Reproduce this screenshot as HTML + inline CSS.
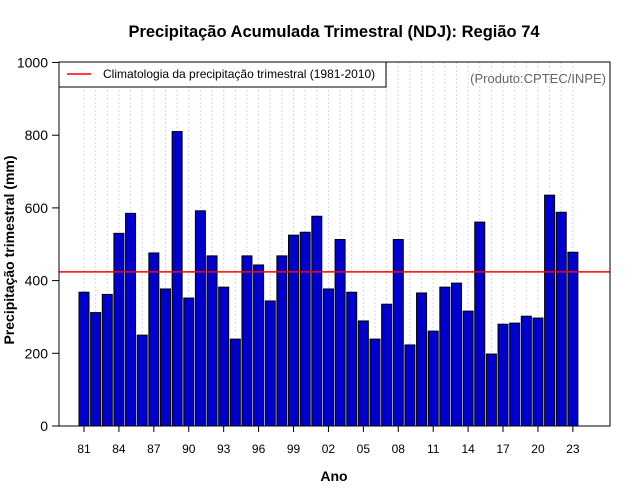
<!DOCTYPE html>
<html><head><meta charset="utf-8"><style>
body{margin:0;background:#fff;}
svg{display:block;font-family:"Liberation Sans",Arial,sans-serif;}
</style></head><body>
<svg id="chart" width="640" height="500">
<text x="334" y="37" text-anchor="middle" font-size="16.5" font-weight="bold">Precipitação Acumulada Trimestral (NDJ): Região 74</text>
<g id="grid"></g>
<g id="bars"></g>
<g id="axes"></g>
<rect x="59" y="62" width="551" height="364" fill="none" stroke="#000" stroke-width="1"/>
<g>
<rect x="59" y="62" width="327" height="25" fill="#fff" stroke="#000"/>
<line x1="67" y1="74" x2="91" y2="74" stroke="#f00" stroke-width="1.5"/>
<text x="103" y="78" font-size="12">Climatologia da precipitação trimestral (1981-2010)</text>
</g>
<text x="606" y="83" text-anchor="end" font-size="13" fill="#666">(Produto:CPTEC/INPE)</text>
<text x="334" y="481" text-anchor="middle" font-size="14" font-weight="bold">Ano</text>
<text transform="translate(14,250) rotate(-90)" text-anchor="middle" font-size="14" font-weight="bold">Precipitação trimestral (mm)</text>
</svg>
<script>
const years=[1981,1982,1983,1984,1985,1986,1987,1988,1989,1990,1991,1992,1993,1994,1995,1996,1997,1998,1999,2000,2001,2002,2003,2004,2005,2006,2007,2008,2009,2010,2011,2012,2013,2014,2015,2016,2017,2018,2019,2020,2021,2022,2023];
const values=[368,312,362,530,585,250,476,377,810,352,592,468,382,239,468,443,344,468,525,533,577,377,513,368,289,239,335,513,223,366,261,382,393,316,561,198,280,283,302,297,635,588,478];
const climatology=[424];
const yTicks=[0,200,400,600,800,1000];
const NS="http://www.w3.org/2000/svg";
const x0=59,x1=610,yB=426,yT=62.5;
const y=v=>yB-(v/1000)*(yB-yT);
const step=11.64;
const x=i=>84+i*step;
function mk(t,a,p){const e=document.createElementNS(NS,t);for(const k in a)e.setAttribute(k,a[k]);p.appendChild(e);return e;}
const grid=document.getElementById('grid'),bars=document.getElementById('bars'),axes=document.getElementById('axes');
years.forEach((yr,i)=>{
 const g=mk('line',{x1:x(i),x2:x(i),y1:62,y2:426,stroke:'#d8d8d8','stroke-dasharray':'2,2'},grid);
 
 
 const b=mk('rect',{x:x(i)-5,y:y(values[i]),width:10,height:yB-y(values[i]),fill:'#0000cd',stroke:'#000','stroke-width':1},bars);
 
 
 if(i%3===0){
  const t=mk('line',{x1:x(i),x2:x(i),y1:426,y2:432,stroke:'#000'},axes);
  
  
  const l=mk('text',{x:x(i),y:453,'text-anchor':'middle','font-size':12},axes);
  l.textContent=String(yr%100).padStart(2,'0');
  
  
 }
});
yTicks.forEach(v=>{
 const t=mk('line',{x1:52,x2:59,y1:y(v),y2:y(v),stroke:'#000'},axes);
 
 
 const l=mk('text',{x:48,y:y(v)+5,'text-anchor':'end','font-size':14},axes);
 l.textContent=v;
 
 
});
const c=mk('line',{x1:x0,x2:x1,y1:y(climatology[0]),y2:y(climatology[0]),stroke:'#f00','stroke-width':1.5},axes);


</script>
</body></html>
